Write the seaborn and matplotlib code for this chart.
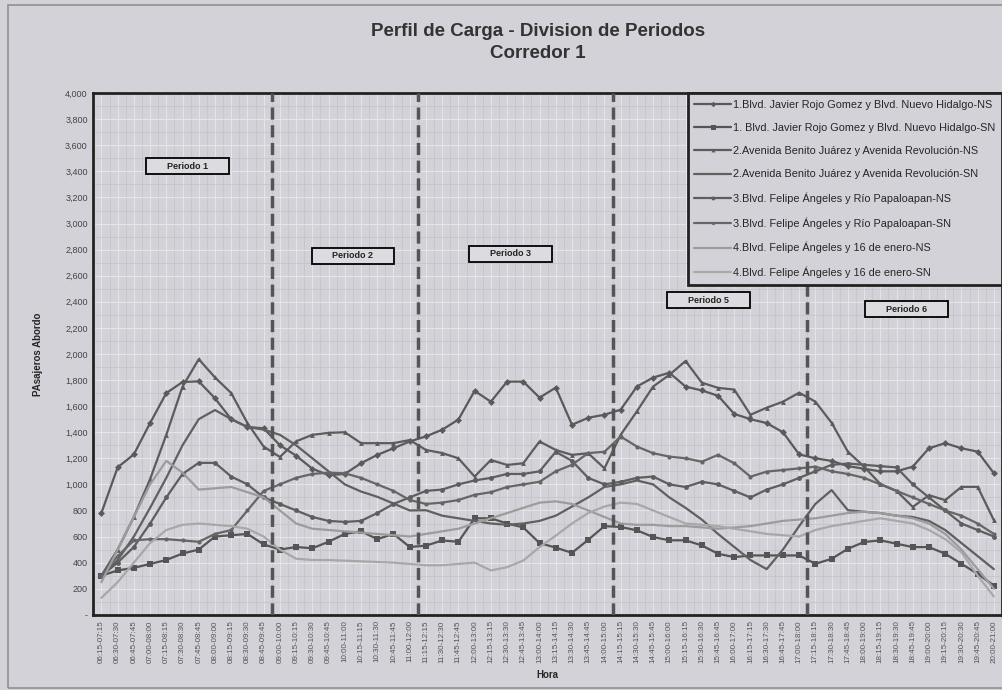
import numpy as np
import pandas as pd
import matplotlib
matplotlib.use('Agg')
import matplotlib.pyplot as plt
from matplotlib.patches import Rectangle
import seaborn as sns

# hours (rolling 1h windows every 15 min)
starts = pd.date_range('2000-01-01 06:15', '2000-01-01 20:00', freq='15min')
horas = [f"{s:%H:%M}-{s + pd.Timedelta(hours=1):%H:%M}" for s in starts]

nombres = ['1.Blvd. Javier Rojo Gomez y Blvd. Nuevo Hidalgo-NS',
           '1. Blvd. Javier Rojo Gomez y Blvd. Nuevo Hidalgo-SN',
           '2.Avenida Benito Juárez y Avenida Revolución-NS',
           '2.Avenida Benito Juárez y Avenida Revolución-SN',
           '3.Blvd. Felipe Ángeles y Río Papaloapan-NS',
           '3.Blvd. Felipe Ángeles y Río Papaloapan-SN',
           '4.Blvd. Felipe Ángeles y 16 de enero-NS',
           '4.Blvd. Felipe Ángeles y 16 de enero-SN']

s1 = [780, 1130, 1230, 1470, 1700, 1785, 1790, 1660, 1500, 1440, 1430,
      1300, 1220, 1120, 1071, 1080, 1162, 1226, 1277, 1329, 1368,
      1419, 1497, 1717, 1634, 1788, 1788, 1665, 1742, 1457, 1511, 1534,
      1573, 1750, 1819, 1856, 1750, 1720, 1680, 1540, 1500, 1470, 1400, 1230,
      1200, 1180, 1140, 1120, 1100, 1100, 1136, 1277, 1316, 1277, 1251, 1085]
s2 = [300, 340, 360, 390, 420, 470, 500, 600, 610, 620, 540,
      500, 520, 510, 560, 620, 640, 580, 620, 520, 530,
      570, 560, 740, 740, 700, 670, 550, 515, 475, 575, 680,
      673, 648, 596, 571, 571, 532, 468, 442, 455, 455, 455, 455,
      391, 429, 506, 558, 571, 545, 519, 519, 468, 391, 314, 224]
s3 = [300, 500, 750, 1040, 1380, 1750, 1960, 1820, 1700, 1470, 1290,
      1210, 1330, 1380, 1395, 1400, 1316, 1316, 1316, 1340, 1264,
      1240, 1200, 1060, 1187, 1149, 1162, 1329, 1264, 1226, 1239, 1123,
      1380, 1560, 1750, 1840, 1946, 1780, 1740, 1727, 1534, 1588, 1634, 1703,
      1634, 1472, 1251, 1136, 1003, 950, 827, 917, 879, 981, 981, 725]
s4 = [290, 420, 600, 820, 1050, 1300, 1500, 1570, 1500, 1440, 1420,
      1380, 1300, 1200, 1100, 1000, 945, 905, 853, 800, 802,
      760, 740, 720, 700, 690, 700, 720, 760, 830, 900, 980,
      1000, 1030, 1000, 900, 820, 730, 620, 520, 420, 350, 500, 680,
      850, 956, 802, 790, 780, 760, 750, 720, 650, 550, 450, 350]
s5 = [300, 400, 520, 700, 900, 1080, 1165, 1165, 1060, 1000, 900,
      850, 800, 750, 720, 712, 720, 780, 850, 900, 950,
      960, 1000, 1030, 1050, 1080, 1080, 1100, 1250, 1180, 1050, 1000,
      1020, 1050, 1060, 1000, 980, 1020, 1000, 950, 900, 960, 1000, 1050,
      1100, 1150, 1160, 1150, 1140, 1130, 1000, 900, 800, 700, 650, 600]
s6 = [300, 450, 570, 580, 580, 570, 560, 620, 650, 800, 950,
      1000, 1050, 1080, 1090, 1085, 1050, 1000, 950, 880, 850,
      860, 880, 920, 940, 980, 1000, 1020, 1100, 1150, 1240, 1250,
      1367, 1290, 1239, 1213, 1200, 1174, 1226, 1162, 1059, 1098, 1110, 1123,
      1136, 1100, 1080, 1050, 1000, 950, 900, 850, 800, 760, 700, 620]
s7 = [250, 500, 750, 1000, 1180, 1090, 960, 970, 980, 940, 900,
      800, 700, 660, 650, 640, 630, 620, 610, 600, 620,
      640, 660, 700, 740, 780, 820, 860, 870, 850, 800, 750,
      700, 690, 690, 680, 680, 670, 660, 670, 680, 700, 720, 730,
      740, 760, 780, 790, 780, 760, 740, 700, 620, 500, 350, 200]
s8 = [130, 250, 400, 550, 650, 690, 700, 690, 680, 660, 600,
      500, 430, 420, 420, 415, 410, 405, 400, 390, 380,
      380, 390, 400, 340, 365, 416, 519, 607, 700, 780, 830,
      860, 850, 800, 750, 700, 690, 680, 660, 640, 620, 610, 600,
      650, 680, 700, 720, 740, 720, 700, 650, 580, 480, 300, 140]
series = [s1, s2, s3, s4, s5, s6, s7, s8]

periodos = ['Periodo 1', 'Periodo 2', 'Periodo 3', 'Periodo 5', 'Periodo 6']
periodo_pos = [(5.3, 3440), (15.5, 2752), (25.2, 2768), (37.4, 2413), (49.6, 2344)]
cortes = [10.5, 19.5, 31.5, 43.5]

rows = []
for n, vals in zip(nombres, series):
    for i, v in enumerate(vals):
        rows.append((n, i, v))
df = pd.DataFrame(rows, columns=['ruta', 'idx', 'pasajeros'])

bg = '#d2d2d8'
sns.set_style('white')
plt.rcParams['font.family'] = ['Liberation Sans', 'DejaVu Sans']

fig = plt.figure(figsize=(10.03, 6.9), dpi=100, facecolor=bg)
ax = fig.add_axes([0.093, 0.109, 0.906, 0.756])
ax.set_facecolor(bg)

estilos = [('#5a5a5a', 'D', 3.5), ('#555555', 's', 4.5), ('#5c5c5c', '^', 3.5),
           ('#606060', None, 0), ('#5e5e5e', 'o', 3.5), ('#666666', 'o', 3),
           ('#9c9c9c', None, 0), ('#a8a8a8', None, 0)]
for n, (c, m, ms) in zip(nombres, estilos):
    sub = df[df.ruta == n]
    sns.lineplot(data=sub, x='idx', y='pasajeros', ax=ax, color=c, marker=m,
                 markersize=ms, markeredgewidth=0, linewidth=1.6, label=n)

for c in cortes:
    ax.axvline(c, color='#555555', lw=2.5, ls=(0, (3.5, 1.6)), zorder=5)

for txt, (x, y) in zip(periodos, periodo_pos):
    ax.add_patch(Rectangle((x - 2.55, y - 62), 5.1, 124, facecolor='#dcdce0',
                           edgecolor='black', lw=1.3, zorder=6))
    ax.text(x, y, txt, ha='center', va='center', fontsize=6.5,
            fontweight='bold', color='#222222', zorder=7)

ax.set_xlim(-0.45, 55.1)
ax.set_ylim(0, 4000)
ax.set_yticks(np.arange(0, 4001, 200))
ax.set_yticklabels(['-'] + [f'{v:,}' for v in range(200, 4001, 200)], fontsize=6.5, color='#444444')
ax.set_yticks(np.arange(0, 4001, 100), minor=True)
ax.set_xticks(range(len(horas)))
ax.set_xticklabels(horas, rotation=90, fontsize=5.8, color='#555555')
ax.set_xticks(np.arange(-0.5, 55.6, 1), minor=True)
ax.grid(which='major', color='#e6e6ea', lw=0.7)
ax.grid(which='minor', color='#c4c4ca', lw=0.6)
ax.tick_params(length=0, pad=4)
for sp in ax.spines.values():
    sp.set_color('#222222')
    sp.set_linewidth(2)

ax.set_xlabel('Hora', fontsize=7, fontweight='bold', labelpad=5)
ax.set_ylabel('PAsajeros Abordo', fontsize=7, fontweight='bold', labelpad=16)

leg = ax.legend(loc='upper right', bbox_to_anchor=(1.0, 1.0), borderaxespad=0,
                fontsize=7.8, frameon=True, fancybox=False, labelspacing=1.22,
                handlelength=3.4, handletextpad=0.2, borderpad=0.6, markerscale=0.8)
leg.get_frame().set_edgecolor('#222222')
leg.get_frame().set_linewidth(2)
leg.get_frame().set_facecolor(bg)
leg.get_frame().set_alpha(1)
leg.set_zorder(10)

fig.text(0.536, 0.955, 'Perfil de Carga - Division de Periodos', ha='center', va='center',
         fontsize=13.5, fontweight='bold', color='#333333')
fig.text(0.536, 0.922, 'Corredor 1', ha='center', va='center',
         fontsize=13.5, fontweight='bold', color='#333333')
fig.patches.append(Rectangle((0.008, 0.003), 1.0, 0.99, transform=fig.transFigure,
                             fill=False, edgecolor='#909090', lw=1.2))

fig.savefig('out.png', dpi=100, facecolor=bg)
